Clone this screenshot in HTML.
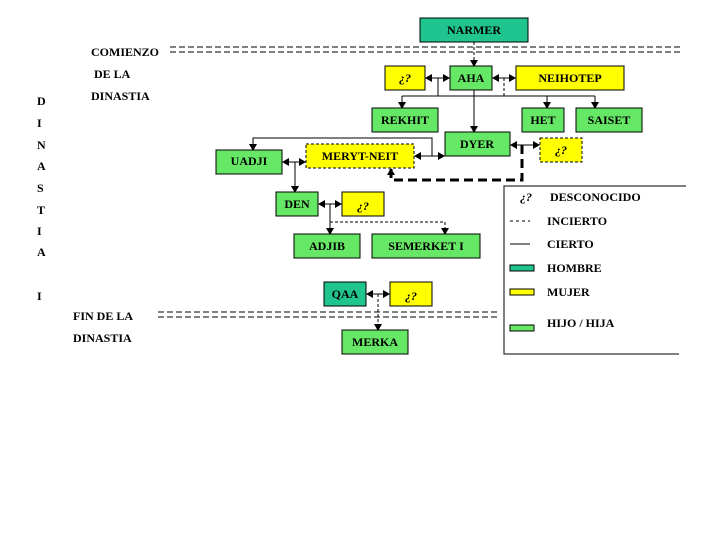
<!DOCTYPE html>
<html><head><meta charset="utf-8"><style>
body{margin:0;background:#fff}
svg text{font-family:"Liberation Serif",serif;font-weight:bold;font-size:12px;fill:#000}
</style></head><body>
<svg width="720" height="540" viewBox="0 0 720 540" xmlns="http://www.w3.org/2000/svg">
<defs><marker id="a" markerWidth="8" markerHeight="8" refX="6" refY="4" orient="auto" markerUnits="userSpaceOnUse"><path d="M0,0 L7,4 L0,8z" fill="#000"/></marker></defs>
<g stroke="#000" stroke-width="1" stroke-dasharray="6,3" fill="none">
<line x1="170" y1="47" x2="683" y2="47"/><line x1="170" y1="52" x2="683" y2="52"/>
<line x1="158" y1="312" x2="498" y2="312"/><line x1="158" y1="317" x2="498" y2="317"/>
</g>
<g stroke="#000" stroke-width="1" fill="none">
<line x1="474" y1="42" x2="474" y2="66" stroke-dasharray="3,2" marker-end="url(#a)"/>
<line x1="438" y1="78" x2="426" y2="78" marker-end="url(#a)"/><line x1="438" y1="78" x2="449" y2="78" marker-end="url(#a)"/>
<line x1="504" y1="78" x2="493" y2="78" marker-end="url(#a)"/><line x1="504" y1="78" x2="515" y2="78" marker-end="url(#a)"/>
<line x1="438" y1="78" x2="438" y2="96"/><line x1="504" y1="78" x2="504" y2="96" stroke-dasharray="3,2"/>
<line x1="402" y1="96" x2="595" y2="96"/>
<line x1="402" y1="96" x2="402" y2="108" marker-end="url(#a)"/>
<line x1="547" y1="96" x2="547" y2="108" marker-end="url(#a)"/>
<line x1="595" y1="96" x2="595" y2="108" marker-end="url(#a)"/>
<line x1="474" y1="90" x2="474" y2="132" marker-end="url(#a)"/>
<line x1="432" y1="156" x2="415" y2="156" marker-end="url(#a)"/><line x1="432" y1="156" x2="444" y2="156" marker-end="url(#a)"/>
<polyline points="432,156 432,138 253,138 253,150" marker-end="url(#a)"/>
<line x1="522" y1="145" x2="511" y2="145" marker-end="url(#a)"/><line x1="522" y1="145" x2="539" y2="145" marker-end="url(#a)"/>
<polyline points="522,145 522,180 391,180 391,169" stroke-width="3" stroke-dasharray="9,5" marker-end="url(#a)"/>
<line x1="295" y1="162" x2="283" y2="162" marker-end="url(#a)"/><line x1="295" y1="162" x2="305" y2="162" marker-end="url(#a)"/>
<line x1="295" y1="162" x2="295" y2="192" marker-end="url(#a)"/>
<line x1="330" y1="204" x2="319" y2="204" marker-end="url(#a)"/><line x1="330" y1="204" x2="341" y2="204" marker-end="url(#a)"/>
<line x1="330" y1="204" x2="330" y2="234" marker-end="url(#a)"/>
<polyline points="330,222 445,222 445,234" stroke-dasharray="3,2" marker-end="url(#a)"/>
<line x1="378" y1="294" x2="367" y2="294" marker-end="url(#a)"/><line x1="378" y1="294" x2="389" y2="294" marker-end="url(#a)"/>
<line x1="378" y1="294" x2="378" y2="330" stroke-dasharray="3,2" marker-end="url(#a)"/>
<polyline points="686,186 504,186 504,354 679,354"/>
</g>
<g stroke="#000" stroke-width="1">
<rect x="420" y="18" width="108" height="24" fill="#1fc48e"/>
<rect x="385" y="66" width="40" height="24" fill="#ffff00"/>
<rect x="450" y="66" width="42" height="24" fill="#66e866"/>
<rect x="516" y="66" width="108" height="24" fill="#ffff00"/>
<rect x="372" y="108" width="66" height="24" fill="#66e866"/>
<rect x="522" y="108" width="42" height="24" fill="#66e866"/>
<rect x="576" y="108" width="66" height="24" fill="#66e866"/>
<rect x="445" y="132" width="65" height="24" fill="#66e866"/>
<rect x="540" y="138" width="42" height="24" fill="#ffff00" stroke-dasharray="3,2"/>
<rect x="306" y="144" width="108" height="24" fill="#ffff00" stroke-dasharray="3,2"/>
<rect x="216" y="150" width="66" height="24" fill="#66e866"/>
<rect x="276" y="192" width="42" height="24" fill="#66e866"/>
<rect x="342" y="192" width="42" height="24" fill="#ffff00"/>
<rect x="294" y="234" width="66" height="24" fill="#66e866"/>
<rect x="372" y="234" width="108" height="24" fill="#66e866"/>
<rect x="324" y="282" width="42" height="24" fill="#1fc48e"/>
<rect x="390" y="282" width="42" height="24" fill="#ffff00"/>
<rect x="342" y="330" width="66" height="24" fill="#66e866"/>
<rect x="510" y="265" width="24" height="6" fill="#1fc48e"/>
<rect x="510" y="289" width="24" height="6" fill="#ffff00"/>
<rect x="510" y="325" width="24" height="6" fill="#66e866"/>
<line x1="510" y1="244" x2="530" y2="244"/>
<line x1="510" y1="221" x2="530" y2="221" stroke-dasharray="3,3"/>
</g>
<g text-anchor="middle">
<text x="474" y="34">NARMER</text>
<text x="405" y="82" font-style="italic">¿?</text>
<text x="471" y="82">AHA</text>
<text x="570" y="82">NEIHOTEP</text>
<text x="405" y="124">REKHIT</text>
<text x="543" y="124">HET</text>
<text x="609" y="124">SAISET</text>
<text x="477" y="148">DYER</text>
<text x="561" y="154" font-style="italic">¿?</text>
<text x="360" y="160">MERYT-NEIT</text>
<text x="249" y="165">UADJI</text>
<text x="297" y="208">DEN</text>
<text x="363" y="210" font-style="italic">¿?</text>
<text x="327" y="250">ADJIB</text>
<text x="426" y="250">SEMERKET  I</text>
<text x="345" y="298">QAA</text>
<text x="411" y="300" font-style="italic">¿?</text>
<text x="375" y="346">MERKA</text>
</g>
<g>
<text x="520" y="201" font-style="italic">¿?</text><text x="550" y="201">DESCONOCIDO</text>
<text x="547" y="225">INCIERTO</text>
<text x="547" y="248">CIERTO</text>
<text x="547" y="272">HOMBRE</text>
<text x="547" y="296">MUJER</text>
<text x="547" y="327">HIJO / HIJA</text>
<text x="91" y="56">COMIENZO</text>
<text x="94" y="78">DE  LA</text>
<text x="91" y="100">DINASTIA</text>
<text x="73" y="320">FIN DE LA</text>
<text x="73" y="342">DINASTIA</text>
<text x="37" y="105">D</text><text x="37" y="127">I</text><text x="37" y="149">N</text><text x="37" y="170">A</text>
<text x="37" y="192">S</text><text x="37" y="214">T</text><text x="37" y="235">I</text><text x="37" y="256">A</text>
<text x="37" y="300">I</text>
</g>
</svg>
</body></html>
